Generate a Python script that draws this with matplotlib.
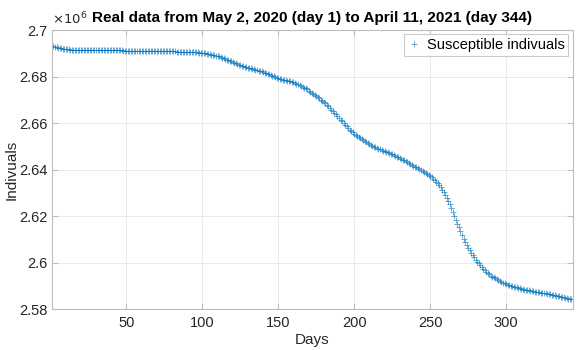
import numpy as np
import matplotlib
matplotlib.use("Agg")
import matplotlib.pyplot as plt
from matplotlib.ticker import FuncFormatter

# susceptible individuals, in millions, one value per day
susceptible_m = [
    2.6931, 2.6930, 2.6929, 2.6927, 2.6925, 2.6923, 2.6921, 2.6920, 2.6919, 2.6918,
    2.6917, 2.6917, 2.6916, 2.6916, 2.6916, 2.6915, 2.6915, 2.6915, 2.6915, 2.6915,
    2.6915, 2.6915, 2.6914, 2.6914, 2.6914, 2.6914, 2.6914, 2.6914, 2.6914, 2.6914,
    2.6914, 2.6914, 2.6914, 2.6914, 2.6913, 2.6913, 2.6913, 2.6913, 2.6913, 2.6913,
    2.6913, 2.6913, 2.6913, 2.6913, 2.6913, 2.6913, 2.6913, 2.6912, 2.6912, 2.6912,
    2.6912, 2.6912, 2.6912, 2.6912, 2.6912, 2.6912, 2.6911, 2.6911, 2.6911, 2.6911,
    2.6911, 2.6911, 2.6911, 2.6911, 2.6910, 2.6910, 2.6910, 2.6910, 2.6910, 2.6910,
    2.6910, 2.6910, 2.6909, 2.6909, 2.6909, 2.6909, 2.6909, 2.6909, 2.6908, 2.6908,
    2.6908, 2.6908, 2.6907, 2.6907, 2.6907, 2.6906, 2.6906, 2.6906, 2.6906, 2.6906,
    2.6906, 2.6906, 2.6905, 2.6905, 2.6905, 2.6904, 2.6904, 2.6903, 2.6903, 2.6902,
    2.6901, 2.6900, 2.6899, 2.6898, 2.6897, 2.6895, 2.6894, 2.6892, 2.6890, 2.6889,
    2.6887, 2.6885, 2.6882, 2.6879, 2.6876, 2.6873, 2.6871, 2.6868, 2.6865, 2.6862,
    2.6859, 2.6857, 2.6854, 2.6851, 2.6849, 2.6847, 2.6845, 2.6843, 2.6841, 2.6839,
    2.6837, 2.6835, 2.6833, 2.6831, 2.6830, 2.6828, 2.6826, 2.6824, 2.6822, 2.6819,
    2.6817, 2.6814, 2.6812, 2.6809, 2.6806, 2.6803, 2.6801, 2.6798, 2.6795, 2.6792,
    2.6790, 2.6789, 2.6787, 2.6786, 2.6784, 2.6783, 2.6781, 2.6779, 2.6777, 2.6775,
    2.6773, 2.6770, 2.6767, 2.6764, 2.6761, 2.6757, 2.6753, 2.6749, 2.6745, 2.6740,
    2.6735, 2.6730, 2.6725, 2.6720, 2.6716, 2.6711, 2.6706, 2.6701, 2.6697, 2.6692,
    2.6686, 2.6679, 2.6672, 2.6665, 2.6658, 2.6651, 2.6644, 2.6637, 2.6630, 2.6623,
    2.6615, 2.6608, 2.6600, 2.6593, 2.6586, 2.6579, 2.6572, 2.6566, 2.6560, 2.6555,
    2.6550, 2.6545, 2.6540, 2.6535, 2.6530, 2.6526, 2.6521, 2.6517, 2.6513, 2.6509,
    2.6505, 2.6502, 2.6499, 2.6496, 2.6493, 2.6490, 2.6488, 2.6485, 2.6482, 2.6479,
    2.6477, 2.6474, 2.6471, 2.6468, 2.6465, 2.6462, 2.6459, 2.6456, 2.6453, 2.6450,
    2.6447, 2.6443, 2.6440, 2.6436, 2.6433, 2.6429, 2.6425, 2.6421, 2.6417, 2.6413,
    2.6409, 2.6405, 2.6401, 2.6397, 2.6393, 2.6389, 2.6385, 2.6380, 2.6376, 2.6372,
    2.6367, 2.6361, 2.6355, 2.6348, 2.6341, 2.6333, 2.6324, 2.6314, 2.6303, 2.6291,
    2.6278, 2.6264, 2.6250, 2.6235, 2.6219, 2.6202, 2.6185, 2.6168, 2.6151, 2.6134,
    2.6118, 2.6103, 2.6089, 2.6076, 2.6064, 2.6053, 2.6042, 2.6032, 2.6022, 2.6013,
    2.6004, 2.5996, 2.5988, 2.5980, 2.5973, 2.5966, 2.5960, 2.5954, 2.5949, 2.5944,
    2.5940, 2.5936, 2.5932, 2.5928, 2.5924, 2.5920, 2.5917, 2.5914, 2.5910, 2.5907,
    2.5905, 2.5903, 2.5901, 2.5899, 2.5897, 2.5895, 2.5893, 2.5891, 2.5889, 2.5887,
    2.5886, 2.5884, 2.5883, 2.5881, 2.5880, 2.5879, 2.5878, 2.5876, 2.5875, 2.5874,
    2.5873, 2.5872, 2.5871, 2.5870, 2.5869, 2.5867, 2.5866, 2.5865, 2.5863, 2.5862,
    2.5860, 2.5859, 2.5857, 2.5856, 2.5854, 2.5853, 2.5851, 2.5850, 2.5848, 2.5847,
    2.5845, 2.5844, 2.5843, 2.5842,
]
days = np.arange(1, len(susceptible_m) + 1)
susceptible = np.array(susceptible_m) * 1e6

x_ticks = [50, 100, 150, 200, 250, 300]
y_ticks = [2.58e6, 2.60e6, 2.62e6, 2.64e6, 2.66e6, 2.68e6, 2.70e6]

plt.rcParams['font.family'] = ['Liberation Sans', 'DejaVu Sans']

fig = plt.figure(figsize=(5.82, 3.5), dpi=100)
ax = fig.add_axes([0.0893, 0.117, 0.895, 0.797])

ax.plot(days, susceptible, linestyle='none', marker='+', color='#0072BD',
        markersize=5, markeredgewidth=0.6, alpha=0.7,
        label='Susceptible indivuals')

ax.set_xlim(1, 344)
ax.set_ylim(2.58e6, 2.7e6)
ax.set_xticks(x_ticks)
ax.set_yticks(y_ticks)
ax.yaxis.set_major_formatter(FuncFormatter(lambda v, p: f"{v / 1e6:g}"))

ax.grid(True, color='#e6e6e6', linewidth=0.6)
ax.set_axisbelow(True)
for s in ax.spines.values():
    s.set_color('#bdbdbd')
    s.set_linewidth(0.8)
ax.tick_params(direction='in', top=True, right=True, length=4,
               color='#bdbdbd', labelsize=10.5, labelcolor='#262626', pad=5)
ax.tick_params(axis='y', pad=3)

ax.set_xlabel('Days', fontsize=11, color='#262626', labelpad=2)
ax.set_ylabel('Indivuals', fontsize=11, color='#262626')
ax.yaxis.set_label_coords(-0.064, 0.5)
ax.set_title('Real data from May 2, 2020 (day 1) to April 11, 2021 (day 344)',
             fontsize=11, fontweight='bold', color='#000000', pad=6)
ax.text(0.0, 1.01, r'$\times10^6$', transform=ax.transAxes, fontsize=9.5,
        color='#262626', va='bottom', ha='left')

leg = ax.legend(loc='upper right', fontsize=10.5, frameon=True, fancybox=False,
                handlelength=0.8, handletextpad=0.5, borderpad=0.25,
                borderaxespad=0.3)
leg.get_frame().set_edgecolor('#bdbdbd')
leg.get_frame().set_linewidth(0.8)

fig.savefig('out.png', dpi=100)
